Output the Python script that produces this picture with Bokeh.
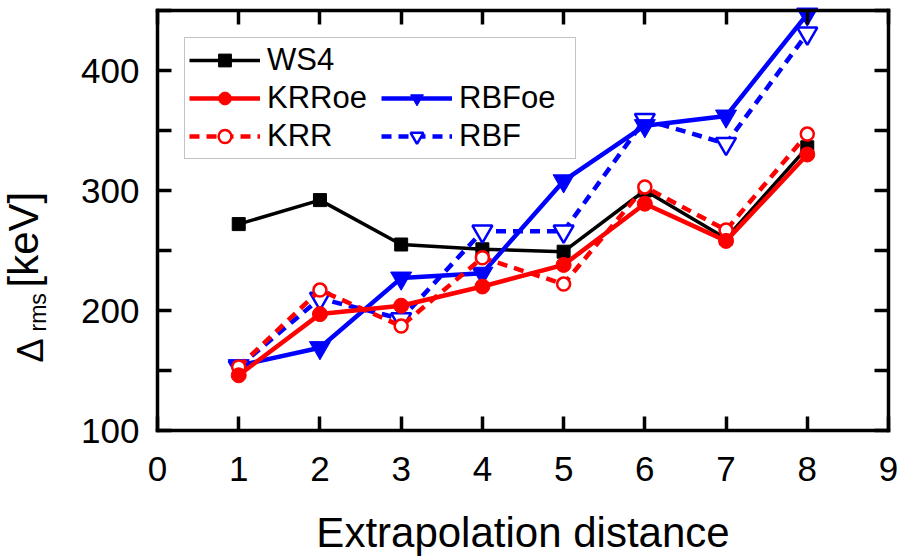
import math
from bokeh.plotting import figure
from bokeh.models import (Range1d, LinearAxis, FixedTicker, Legend, LegendItem, Label,
                          CustomJSTickFormatter)
from bokeh.embed import file_html
from bokeh.resources import INLINE

# ---- data ----
distance = [1, 2, 3, 4, 5, 6, 7, 8]
ws4 = [272, 292, 255, 251, 249, 300, 260, 336]
krr_oe = [146, 197, 204, 220, 238, 289, 258, 330]
krr = [153, 217, 187, 244, 222, 303, 267, 347]
rbf_oe = [154, 169, 227, 231, 308, 354, 362, 447]
rbf = [153, 210, 193, 266, 266, 359, 339, 431]

x_ticks = [0, 1, 2, 3, 4, 5, 6, 7, 8, 9]
y_ticks = [100, 150, 200, 250, 300, 350, 400, 450]
y_tick_labels = {150: "", 250: "", 350: "", 450: ""}
X_MIN, X_MAX = 0, 9
Y_MIN, Y_MAX = 100, 450

FONT = "Liberation Sans"
RED = "#ff0000"
BLUE = "#0000ff"
BLACK = "#000000"

# layout: the Bokeh frame spans the whole canvas; the visible box (x 0..9, y 100..450)
# sits at canvas x 157..888, y 10..430, drawn by four fixed-location axes with bounds.
W, H = 908, 557
BOX_L, BOX_R, BOX_T, BOX_B = 157, 888, 10, 430
xs = (BOX_R - BOX_L) / (X_MAX - X_MIN)
ys = (BOX_B - BOX_T) / (Y_MAX - Y_MIN)
x_lo = X_MIN - BOX_L / xs
x_hi = X_MAX + (W - BOX_R) / xs
y_lo = Y_MIN - (H - BOX_B) / ys
y_hi = Y_MAX + BOX_T / ys

p = figure(width=W, height=H, output_backend="svg", toolbar_location=None,
           x_range=Range1d(x_lo, x_hi), y_range=Range1d(y_lo, y_hi),
           min_border_left=0, min_border_right=0, min_border_top=0, min_border_bottom=0,
           background_fill_color="white", border_fill_color="white")
p.grid.visible = False
p.outline_line_color = None

AX = dict(major_tick_in=14, major_tick_out=0, minor_tick_in=0, minor_tick_out=0,
          axis_line_width=3.5, major_tick_line_width=3.5, axis_line_cap="square")

xa = p.xaxis[0]
ya = p.yaxis[0]
for k, v in AX.items():
    setattr(xa, k, v)
    setattr(ya, k, v)
for ax in (xa, ya):
    ax.major_label_text_font = FONT
    ax.major_label_text_font_size = "35px"
    ax.major_label_text_color = BLACK

xa.ticker = FixedTicker(ticks=x_ticks)
xa.bounds = (X_MIN, X_MAX)
xa.fixed_location = Y_MIN
xa.major_label_standoff = 26

ya.ticker = FixedTicker(ticks=y_ticks)
ya.major_label_overrides = y_tick_labels
ya.major_label_standoff = 18
ya.fixed_location = X_MIN
ya.bounds = (Y_MIN, Y_MAX)

blank = CustomJSTickFormatter(code="return ''")
top = LinearAxis(ticker=FixedTicker(ticks=x_ticks), formatter=blank, bounds=(X_MIN, X_MAX),
                 fixed_location=Y_MAX, major_label_standoff=0, **AX)
right = LinearAxis(ticker=FixedTicker(ticks=y_ticks), formatter=blank, bounds=(Y_MIN, Y_MAX),
                   fixed_location=X_MAX, major_label_standoff=0, **AX)
p.add_layout(top, "above")
p.add_layout(right, "right")

# ---- series ----
LW = 4.5
DASH = "10 7"
l_ws4 = p.line(distance, ws4, line_color=BLACK, line_width=3.5)
s_ws4 = p.scatter(distance, ws4, marker="square", size=13, fill_color=BLACK, line_color=BLACK)

l_rbf = p.line(distance, rbf, line_color=BLUE, line_width=LW, line_dash=DASH)
s_rbf = p.scatter(distance, rbf, marker="inverted_triangle", size=20, fill_color="white",
                  line_color=BLUE, line_width=2.5)
l_rbfoe = p.line(distance, rbf_oe, line_color=BLUE, line_width=LW)
s_rbfoe = p.scatter(distance, rbf_oe, marker="inverted_triangle", size=21, fill_color=BLUE,
                    line_color=BLUE)

l_krr = p.line(distance, krr, line_color=RED, line_width=LW, line_dash=DASH)
s_krr = p.scatter(distance, krr, marker="circle", size=13, fill_color="white",
                  line_color=RED, line_width=2.5)
l_krroe = p.line(distance, krr_oe, line_color=RED, line_width=LW)
s_krroe = p.scatter(distance, krr_oe, marker="circle", size=15, fill_color=RED, line_color=RED)

dummy = p.line([], [], line_alpha=0)

legend = Legend(items=[
    LegendItem(label="WS4", renderers=[l_ws4, s_ws4]),
    LegendItem(label="KRRoe", renderers=[l_krroe, s_krroe]),
    LegendItem(label="KRR", renderers=[l_krr, s_krr]),
    LegendItem(label=" ", renderers=[dummy]),
    LegendItem(label="RBFoe", renderers=[l_rbfoe, s_rbfoe]),
    LegendItem(label="RBF", renderers=[l_rbf, s_rbf]),
], location=(184, 398), orientation="vertical", nrows=3,
   glyph_width=71, glyph_height=32, label_height=32, label_width=112, spacing=2, padding=4,
   label_standoff=7,
   label_text_font=FONT, label_text_font_size="31px", label_text_color=BLACK,
   border_line_color="#888888", border_line_width=1.5, background_fill_color="white",
   background_fill_alpha=1)
p.add_layout(legend, "center")

# ---- axis titles (frame screen coords; frame = whole canvas, y measured from bottom) ----
p.add_layout(Label(x=(BOX_L + BOX_R) / 2, y=25, x_units="screen", y_units="screen",
                   text="Extrapolation distance", text_align="center",
                   text_baseline="alphabetic", text_font=FONT, text_font_size="42px",
                   text_color=BLACK))

common = dict(x_units="screen", y_units="screen", angle=math.pi / 2, text_align="left",
              text_baseline="alphabetic", text_color=BLACK, text_font=FONT)
p.add_layout(Label(x=30, y=195, text="\u0394", text_font_size="36px", **common))
p.add_layout(Label(x=37, y=226, text="rms", text_font_size="23px", **common))
p.add_layout(Label(x=23, y=270, text="[keV]", text_font_size="42px", **common))

open("out.html", "w").write(file_html(p, INLINE))
